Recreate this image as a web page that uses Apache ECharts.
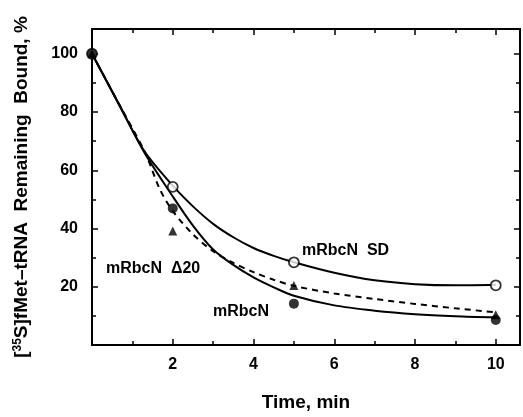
<!DOCTYPE html>
<html><head><meta charset="utf-8">
<script src="https://cdn.jsdelivr.net/npm/echarts@6/dist/echarts.min.js"></script>
<style>html,body{margin:0;padding:0;background:#fff}#c{width:523px;height:417px}</style>
</head><body><div id="c"></div>
<script>
// measured points
var time = [0, 2, 5, 10];
var sdVals = [100, 54.3, 28.4, 20.5];       // mRbcN SD (open circles)
var wtVals = [100, 46.9, 14.2, 8.6];        // mRbcN (filled circles)
var d20Vals = [100, 39.1, 20.4, 10.4];      // mRbcN Δ20 (filled triangles)
// fitted curves
var sdCurveX = [0, 0.65, 1.3, 2, 2.5, 3, 3.5, 4, 4.5, 5, 6, 7, 8, 9, 10];
var sdCurveY = [100, 83.2, 66.5, 54.7, 47.6, 41.6, 37, 33.3, 30.6, 28.4, 24.8, 22.2, 20.9, 20.5, 20.7];
var wtCurveX = [0, 0.65, 1.3, 2, 2.5, 3, 3.5, 4, 4.5, 5, 6, 7, 8, 9, 10];
var wtCurveY = [100, 83, 66, 51, 41, 32.8, 27.5, 23.2, 19.8, 16.9, 13.6, 11.8, 10.6, 9.9, 9.5];
var d20CurveX = [0, 0.65, 1.3, 1.68, 2, 2.5, 3, 3.5, 4, 4.5, 5, 6, 7, 8, 9, 10];
var d20CurveY = [100, 83.2, 66.5, 53.5, 46, 38, 32.2, 28.2, 25, 22.4, 20.3, 17.7, 15.8, 14.1, 12.6, 11.2];
var xTicks = [2, 4, 6, 8, 10];
var yTicks = [20, 40, 60, 80, 100];

function zip(a, b) { return a.map(function (v, i) { return [v, b[i]]; }); }
var FONT = 'Liberation Sans';
var chart = echarts.init(document.getElementById('c'));
function xAx(pos, labels) {
  return {
    type: 'value', position: pos, min: 0, max: 10.6, interval: 2,
    axisLine: { show: true, onZero: false, lineStyle: { color: '#000', width: 2 } },
    axisTick: { show: true, inside: true, length: 6, lineStyle: { color: '#000', width: 1.5 } },
    minorTick: { show: true, splitNumber: 2, length: 4, lineStyle: { color: '#000', width: 1.5 } },
    splitLine: { show: false },
    axisLabel: { show: labels, margin: 12, color: '#000', fontFamily: FONT, fontWeight: 'bold', fontSize: 16,
      formatter: function (v) { return xTicks.indexOf(v) >= 0 ? String(v) : ''; } },
    name: labels ? 'Time, min' : '', nameLocation: 'middle', nameGap: 48,
    nameTextStyle: { color: '#000', fontFamily: FONT, fontWeight: 'bold', fontSize: 19 }
  };
}
function yAx(pos, labels) {
  return {
    type: 'value', position: pos, min: 0, max: 108.5, interval: 20,
    axisLine: { show: true, onZero: false, lineStyle: { color: '#000', width: 2 } },
    axisTick: { show: true, inside: true, length: 6, lineStyle: { color: '#000', width: 1.5 } },
    minorTick: { show: true, splitNumber: 2, length: 4, lineStyle: { color: '#000', width: 1.5 } },
    splitLine: { show: false },
    axisLabel: { show: labels, margin: 14, color: '#000', fontFamily: FONT, fontWeight: 'bold', fontSize: 16,
      formatter: function (v) { return yTicks.indexOf(v) >= 0 ? String(v) : ''; } },
    name: labels ? '{b|[}{s|35}{b|S]fMet\u2013tRNA  Remaining  Bound, %}' : '',
    nameLocation: 'middle', nameGap: 61, nameRotate: 90,
    nameTextStyle: { rich: {
      b: { color: '#000', fontFamily: FONT, fontWeight: 'bold', fontSize: 19 },
      s: { color: '#000', fontFamily: FONT, fontWeight: 'bold', fontSize: 12, verticalAlign: 'top', padding: [0, 0, 7, 0] }
    } }
  };
}
var lineBase = { type: 'line', smooth: 0.3, symbol: 'none', z: 2, silent: true };
chart.setOption({
  animation: false,
  backgroundColor: '#fff',
  grid: { left: 92, right: 2, top: 29, bottom: 64 },
  xAxis: [xAx('bottom', true), xAx('top', false)],
  yAxis: [yAx('left', true), yAx('right', false)],
  series: [
    Object.assign({}, lineBase, { data: zip(sdCurveX, sdCurveY), lineStyle: { color: '#000', width: 2 } }),
    Object.assign({}, lineBase, { data: zip(wtCurveX, wtCurveY), lineStyle: { color: '#000', width: 2 } }),
    Object.assign({}, lineBase, { data: zip(d20CurveX, d20CurveY), lineStyle: { color: '#000', width: 2, type: [6, 5] } }),
    { type: 'scatter', data: zip(time, sdVals), symbol: 'circle', symbolSize: 10, z: 5,
      itemStyle: { color: '#fff', borderColor: '#000', borderWidth: 1.8 } },
    { type: 'scatter', data: zip(time, d20Vals), symbol: 'triangle', symbolSize: 9, z: 5,
      itemStyle: { color: '#000' } },
    { type: 'scatter', data: zip(time, wtVals), symbol: 'circle', symbolSize: 10, z: 6,
      itemStyle: { color: '#000' } }
  ],
  graphic: [
    { type: 'text', left: 302, top: 243, style: { text: 'mRbcN  SD', fill: '#000', font: 'bold 16px "Liberation Sans"' } },
    { type: 'text', left: 106, top: 261, style: { text: 'mRbcN  \u039420', fill: '#000', font: 'bold 16px "Liberation Sans"' } },
    { type: 'text', left: 213, top: 304, style: { text: 'mRbcN', fill: '#000', font: 'bold 16px "Liberation Sans"' } }
  ]
});
</script></body></html>
